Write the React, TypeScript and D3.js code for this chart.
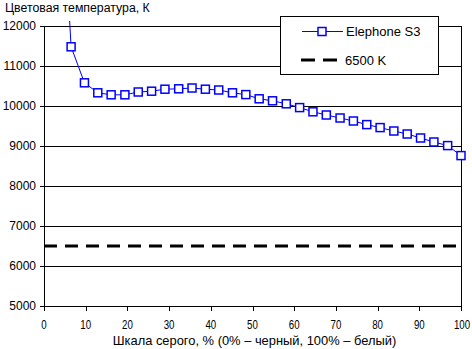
import React from "react";
import * as d3 from "d3";

const grayLevels = [3.2, 6.5, 9.7, 12.9, 16.1, 19.4, 22.6, 25.8, 29.0, 32.3, 35.5, 38.7, 41.9, 45.2, 48.4, 51.6, 54.8, 58.1, 61.3, 64.5, 67.7, 71.0, 74.2, 77.4, 80.6, 83.9, 87.1, 90.3, 93.5, 96.8, 100];
const colorTemp = [17500, 11480, 10580, 10330, 10280, 10280, 10350, 10370, 10420, 10430, 10450, 10420, 10400, 10330, 10285, 10180, 10130, 10055, 9960, 9855, 9775, 9700, 9625, 9535, 9460, 9375, 9300, 9200, 9100, 9010, 8760];
const referenceTemp = 6500;
const yTicks = [5000, 6000, 7000, 8000, 9000, 10000, 11000, 12000];
const xTicks = [0, 10, 20, 30, 40, 50, 60, 70, 80, 90, 100];
const seriesName = "Elephone S3";
const refName = "6500 K";
const yTitle = "Цветовая температура, К";
const xTitle = "Шкала серого, % (0% – черный, 100% – белый)";

const W = 472, H = 349;
const L = 44, R = 461, T = 26, B = 306;
const CLIP_TOP = 21;
const FONT = "'Liberation Sans', Arial, sans-serif";
const BLUE = "#0000ff";

export default function App() {
  const x = d3.scaleLinear().domain([0, 100]).range([L, R]);
  const y = d3.scaleLinear().domain([5000, 12000]).range([B, T]);
  const px = (v: number) => Math.round(v) + 0.5;
  const pts = grayLevels.map((g, i) => ({ g, v: colorTemp[i] }));
  // coordinates inside the nested (clipping) svg, offset by its origin
  const ox = L - 6, oy = CLIP_TOP;
  const line = d3.line<{ g: number; v: number }>().x(d => x(d.g) - ox).y(d => y(d.v) - oy);
  const ms = 8;
  return (
    <svg width={W} height={H} style={{ position: "absolute", left: 0, top: 0, background: "#fff" }} fontFamily={FONT}>
      <rect width={W} height={H} fill="#fff" />
      {/* gridlines */}
      {yTicks.map(t => (
        <line key={"g" + t} x1={L} x2={px(R)} y1={px(y(t))} y2={px(y(t))} stroke="#000" strokeWidth={1} shapeRendering="crispEdges" />
      ))}
      {/* y ticks */}
      {yTicks.map(t => (
        <line key={"yt" + t} x1={L - 4} x2={px(L)} y1={px(y(t))} y2={px(y(t))} stroke="#000" shapeRendering="crispEdges" />
      ))}
      {/* x ticks */}
      {xTicks.map(t => (
        <line key={"xt" + t} x1={px(x(t))} x2={px(x(t))} y1={px(B)} y2={B + 5} stroke="#000" shapeRendering="crispEdges" />
      ))}
      {/* axes */}
      <line x1={px(L)} x2={px(L)} y1={px(T)} y2={px(B)} stroke="#000" shapeRendering="crispEdges" />
      <line x1={px(R)} x2={px(R)} y1={px(T)} y2={px(B)} stroke="#000" shapeRendering="crispEdges" />
      {/* reference line */}
      <line x1={L} x2={R + 1} y1={y(referenceTemp)} y2={y(referenceTemp)} stroke="#000" strokeWidth={3} strokeDasharray="13,8" />
      {/* series, clipped by a nested svg viewport */}
      <svg x={ox} y={oy} width={R + 12 - ox} height={B + 6 - oy} overflow="hidden">
        <path d={line(pts) || ""} fill="none" stroke={BLUE} strokeWidth={1} />
        {pts.filter(d => y(d.v) > T - 8).map((d, i) => (
          <rect key={i} x={x(d.g) - ox - ms / 2} y={y(d.v) - oy - ms / 2} width={ms} height={ms} fill="#fff" stroke={BLUE} strokeWidth={1.5} />
        ))}
      </svg>
      {/* y labels */}
      {yTicks.map(t => (
        <text key={"yl" + t} x={36} y={y(t)} dy="0.35em" textAnchor="end" fontSize={12}>{t}</text>
      ))}
      {/* x labels */}
      {xTicks.map(t => (
        <text key={"xl" + t} x={t === 100 ? x(t) + 1 : x(t)} y={329} textAnchor="middle" fontSize={13} textLength={String(t).length * 5.4} lengthAdjust="spacingAndGlyphs">{t}</text>
      ))}
      <text x={5} y={12} fontSize={12.3}>{yTitle}</text>
      <text x={(L + R) / 2 + 2} y={345} textAnchor="middle" fontSize={12.9}>{xTitle}</text>
      {/* legend */}
      <rect x={280.5} y={16.5} width={158} height={58} fill="#fff" stroke="#000" strokeWidth={1} shapeRendering="crispEdges" />
      <line x1={302} x2={343} y1={31.5} y2={31.5} stroke={BLUE} strokeWidth={1} />
      <rect x={322 - ms / 2} y={31.5 - ms / 2} width={ms} height={ms} fill="#fff" stroke={BLUE} strokeWidth={1.5} />
      <text x={346} y={31.5} dy="0.35em" fontSize={13}>{seriesName}</text>
      <line x1={301} x2={337} y1={60} y2={60} stroke="#000" strokeWidth={3} strokeDasharray="14,8" />
      <text x={345} y={60} dy="0.35em" fontSize={13}>{refName}</text>
    </svg>
  );
}
